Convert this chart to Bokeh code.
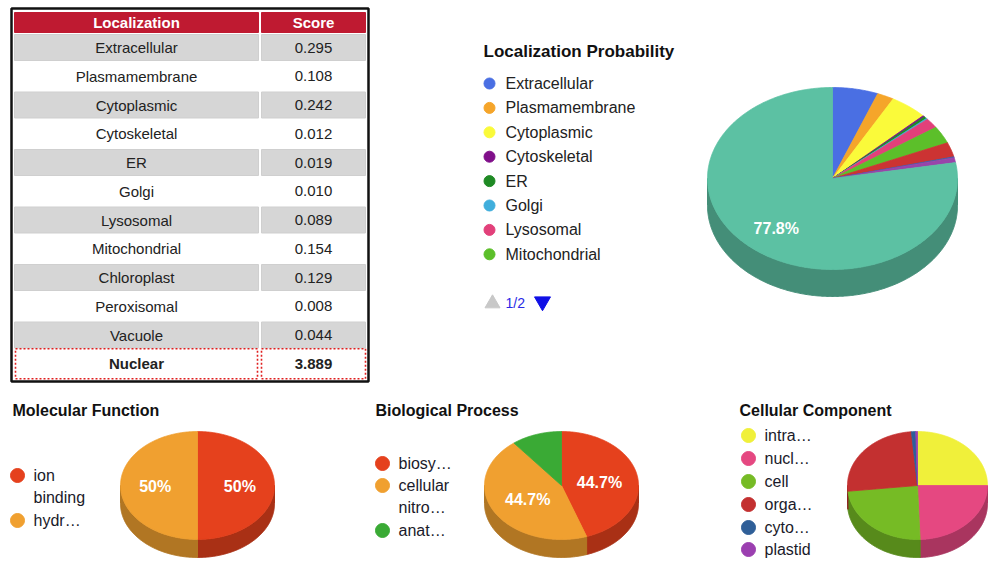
import numpy as np
from bokeh.plotting import figure
from bokeh.models import Range1d
from bokeh.core.properties import value
from bokeh.embed import file_html
from bokeh.resources import INLINE

FONT = "Liberation Sans"

# ---------------- data ----------------
loc_names = ["Extracellular", "Plasmamembrane", "Cytoplasmic", "Cytoskeletal", "ER", "Golgi",
             "Lysosomal", "Mitochondrial", "Chloroplast", "Peroxisomal", "Vacuole", "Nuclear"]
loc_scores = [0.295, 0.108, 0.242, 0.012, 0.019, 0.010, 0.089, 0.154, 0.129, 0.008, 0.044, 3.889]
loc_colors = ["#4a6fe3", "#f5a52a", "#fafa3a", "#800f8a", "#1f8a24", "#40aedc",
              "#e2407a", "#5cbf2a", "#cc3333", "#3a5fa8", "#9944aa", "#5cc1a3"]
legend_page_size = 8

mf_title = "Molecular Function"
mf_labels = ["ion\nbinding", "hydr…"]
mf_values = [50.0, 50.0]
mf_colors = ["#e5411d", "#f0a030"]

bp_title = "Biological Process"
bp_labels = ["biosy…", "cellular\nnitro…", "anat…"]
bp_values = [44.7, 44.7, 10.6]
bp_colors = ["#e5411d", "#f0a030", "#3aaa35"]

cc_title = "Cellular Component"
cc_labels = ["intra…", "nucl…", "cell", "orga…", "cyto…", "plastid"]
cc_values = [25.0, 24.4, 23.9, 25.3, 1.0, 0.4]
cc_colors = ["#f0f03a", "#e54881", "#76bb25", "#c33030", "#2f5f98", "#9b3fb0"]

# ---------------- figure ----------------
p = figure(width=988, height=558, x_range=Range1d(0, 988), y_range=Range1d(558, 0),
           output_backend="svg", toolbar_location=None, x_axis_type=None, y_axis_type=None,
           min_border=0, min_border_left=0, min_border_right=0, min_border_top=0, min_border_bottom=0)
p.grid.visible = False
p.outline_line_color = None
p.background_fill_color = "white"
p.border_fill_color = "white"


def txt(x, y, t, size, color="#222222", align="left", bold=False, baseline="middle"):
    p.text(x=[x], y=[y], text=[t], text_font=value(FONT), text_font_size=f"{size}px",
           text_color=color, text_align=align, text_baseline=baseline,
           text_font_style="bold" if bold else "normal")


def darken(h, f=0.74):
    h = h.lstrip("#")
    r, g, b = (int(h[i:i + 2], 16) for i in (0, 2, 4))
    return "#%02x%02x%02x" % (int(r * f), int(g * f), int(b * f))


# ---------------- table ----------------
tab_l, tab_r, tab_t, tab_b = 11, 368, 8, 381
c1_l, c1_r, c2_l, c2_r = 14, 258, 261, 365
row0, row_h = 47, 28.75
p.quad(left=[c1_l, c2_l], right=[c1_r, c2_r], top=[12, 12], bottom=[32, 32],
       fill_color="#bf1a31", line_color="#bf1a31")
txt((c1_l + c1_r) / 2, 22, "Localization", 15, "white", "center", True)
txt((c2_l + c2_r) / 2, 22, "Score", 15, "white", "center", True)
n = len(loc_names)
for i, (nm, sc) in enumerate(zip(loc_names, loc_scores)):
    yc = row0 + i * row_h
    last = i == n - 1
    if last:
        p.quad(left=[c1_l + 1, c2_l], right=[c1_r - 1, c2_r], top=[yc - 15, yc - 15], bottom=[yc + 15, yc + 15],
               fill_color=None, line_color="#e02020", line_width=1.6, line_dash="2 2")
    elif i % 2 == 0:
        p.quad(left=[c1_l, c2_l], right=[c1_r, c2_r], top=[yc - 13, yc - 13], bottom=[yc + 13, yc + 13],
               fill_color="#d6d6d6", line_color="#cfcfcf", line_width=1)
    txt((c1_l + c1_r) / 2, yc, nm, 15, "#222222", "center", last)
    txt((c2_l + c2_r) / 2, yc, f"{sc:.3f}", 15, "#222222", "center", last)
p.quad(left=[tab_l], right=[tab_r], top=[tab_t], bottom=[tab_b], fill_color=None,
       line_color="#111111", line_width=2.5)


# ---------------- pies ----------------
def pie3d(cx, cy, rx, ry, depth, vals, cols, label_k, show_labels, fsize=16):
    vals = np.asarray(vals, float)
    frac = vals / vals.sum()
    edges = np.concatenate([[0.0], np.cumsum(frac)]) * 2 * np.pi
    sx, sy, sc, tx, ty, tc = [], [], [], [], [], []
    for i in range(len(vals)):
        a, b = edges[i], edges[i + 1]
        lo, hi = max(a, np.pi / 2), min(b, 1.5 * np.pi)
        if hi > lo:
            th = np.linspace(lo, hi, max(2, int((hi - lo) / 0.01) + 2))
            x = cx + rx * np.sin(th)
            y = cy - ry * np.cos(th)
            sx.append(np.concatenate([x, x[::-1]]))
            sy.append(np.concatenate([y, (y + depth)[::-1]]))
            sc.append(darken(cols[i]))
        th = np.linspace(a, b, max(2, int((b - a) / 0.01) + 2))
        tx.append(np.concatenate([[cx], cx + rx * np.sin(th)]))
        ty.append(np.concatenate([[cy], cy - ry * np.cos(th)]))
        tc.append(cols[i])
    p.patches(xs=sx, ys=sy, fill_color=sc, line_color=sc, line_width=1)
    p.patches(xs=tx, ys=ty, fill_color=tc, line_color=tc, line_width=0.8)
    for i in range(len(vals)):
        if show_labels[i]:
            mid = (edges[i] + edges[i + 1]) / 2
            pct = frac[i] * 100
            s = f"{pct:.1f}".rstrip("0").rstrip(".") + "%"
            txt(cx + rx * label_k * np.sin(mid), cy - ry * label_k * np.cos(mid) + 1, s, fsize,
                "white", "center", True)


# main localization pie
pie3d(832, 178, 125, 91, 27, loc_scores, loc_colors, 0.7,
      [s / sum(loc_scores) > 0.15 for s in loc_scores])
txt(483, 51, "Localization Probability", 17, "#111111", "left", True)
for i in range(legend_page_size):
    yy = 83 + i * 24.4
    p.scatter(x=[489], y=[yy], size=11, marker="circle", fill_color=loc_colors[i], line_color=loc_colors[i])
    txt(505, yy, loc_names[i], 16)
p.scatter(x=[492], y=[303], size=15, marker="triangle", fill_color="#c8c8c8", line_color="#c8c8c8")
txt(505, 302, f"1/{int(np.ceil((len(loc_names) - 1) / legend_page_size))}", 14, "#2a2ae6")
p.scatter(x=[542], y=[301], size=16, marker="inverted_triangle", fill_color="#1010e6", line_color="#1010e6")


def legend(x0, ys, labels, cols):
    for yy, lab, c in zip(ys, labels, cols):
        p.scatter(x=[x0], y=[yy], size=14, marker="circle", fill_color=c, line_color=c)
        for j, line in enumerate(lab.split("\n")):
            txt(x0 + 16, yy + j * 22, line, 16, "#1a1a2a")


# molecular function
txt(12, 410, mf_title, 16, "#111111", "left", True)
legend(17, [475, 520], mf_labels, mf_colors)
pie3d(197, 485, 77, 54, 18, mf_values, mf_colors, 0.55, [True, True])

# biological process
txt(375, 410, bp_title, 16, "#111111", "left", True)
legend(382, [463, 485, 530], bp_labels, bp_colors)
pie3d(561, 485, 77, 54, 18, bp_values, bp_colors, 0.5, [True, True, False])

# cellular component
txt(739, 410, cc_title, 16, "#111111", "left", True)
legend(748, [435, 458, 481, 504, 527, 549], cc_labels, cc_colors)
pie3d(917, 485, 70, 54, 18, cc_values, cc_colors, 0.5, [False] * 6)

open("out.html", "w").write(file_html(p, INLINE))
